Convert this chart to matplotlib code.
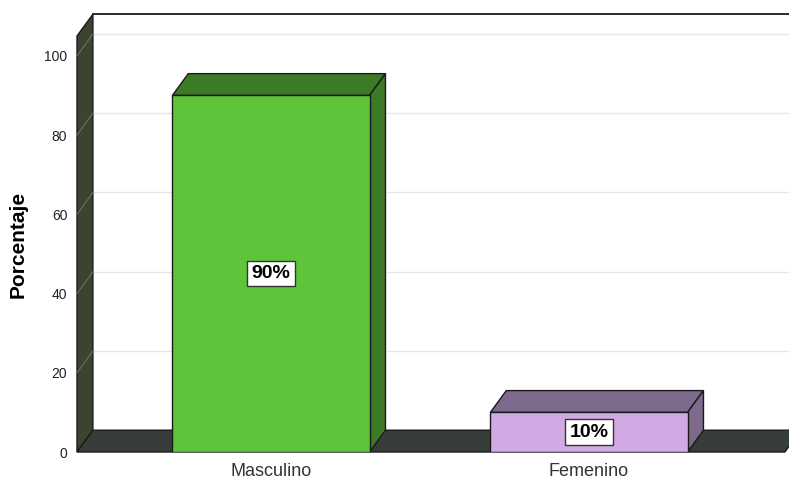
import matplotlib.pyplot as plt
from matplotlib.patches import Polygon

categorias = ["Masculino", "Femenino"]
porcentajes = [90, 10]
etiquetas = ["90%", "10%"]
yticks = [0, 20, 40, 60, 80, 100]

frente = ["#5ec43a", "#d1a9e4"]
sombra = ["#3c7a26", "#7e6a8c"]

plt.rcParams["font.family"] = ["Liberation Sans", "DejaVu Sans"]

fig = plt.figure(figsize=(7.89, 4.82), dpi=100)
ax = fig.add_axes([77 / 789, 30 / 482, 712 / 789, 416 / 482])

x0, x1 = -0.61, 1.629
ymax = 105
dx, dy = 0.05, 5.5
ancho = 0.62
borde = "#1a1a1a"

ax.set_xlim(x0, x1)
ax.set_ylim(0, ymax)

# pared del fondo: rejilla y borde superior
for v in yticks:
    ax.plot([x0 + dx, x1 + 0.1], [v + dy, v + dy], color="#e6e6e6", lw=1,
            zorder=1, clip_on=False)
ax.plot([x0 + dx, x1 + 0.1], [ymax + dy, ymax + dy], color=borde, lw=1.3,
        zorder=2, clip_on=False)

# pared izquierda y suelo
pared = Polygon([(x0, 0), (x0, ymax), (x0 + dx, ymax + dy), (x0 + dx, dy)],
                closed=True, fc="#3a4430", ec=borde, lw=1, zorder=2, clip_on=False)
ax.add_patch(pared)
suelo = Polygon([(x0, 0), (1.616, 0), (1.616 + dx, dy), (x0 + dx, dy)],
                closed=True, fc="#373d38", ec=borde, lw=1, zorder=2, clip_on=False)
ax.add_patch(suelo)
for v in yticks[1:]:
    ax.plot([x0, x0 + dx], [v, v + dy], color="#6b7064", lw=0.8, zorder=2.5,
            clip_on=False)

# barras con cara superior y lateral
for i, v in enumerate(porcentajes):
    a = i - ancho / 2
    b = i + ancho / 2
    ax.bar(i, v, width=ancho, color=frente[i], edgecolor=borde, lw=1, zorder=4)
    tapa = Polygon([(a, v), (b, v), (b + dx, v + dy), (a + dx, v + dy)],
                   closed=True, fc=sombra[i], ec=borde, lw=1, zorder=3, clip_on=False)
    lado = Polygon([(b, 0), (b + dx, dy), (b + dx, v + dy), (b, v)],
                   closed=True, fc=sombra[i], ec=borde, lw=1, zorder=3, clip_on=False)
    ax.add_patch(tapa)
    ax.add_patch(lado)
    ax.text(i, v / 2, etiquetas[i], ha="center", va="center", fontsize=14,
            fontweight="bold", color="black", zorder=5,
            bbox=dict(boxstyle="square,pad=0.22", fc="white", ec="#333333", lw=1))

for s in ax.spines.values():
    s.set_visible(False)
ax.set_yticks(yticks)
ax.set_yticklabels([str(t) for t in yticks], fontsize=10, color="#222222")
ax.set_xticks(range(len(categorias)))
ax.set_xticklabels(categorias, fontsize=13, color="#333333")
ax.tick_params(axis="y", length=0, pad=7)
ax.tick_params(axis="x", length=0, pad=8)
ax.set_ylabel("Porcentaje", fontsize=15, fontweight="bold", labelpad=12)

fig.savefig("out.png", dpi=100)
